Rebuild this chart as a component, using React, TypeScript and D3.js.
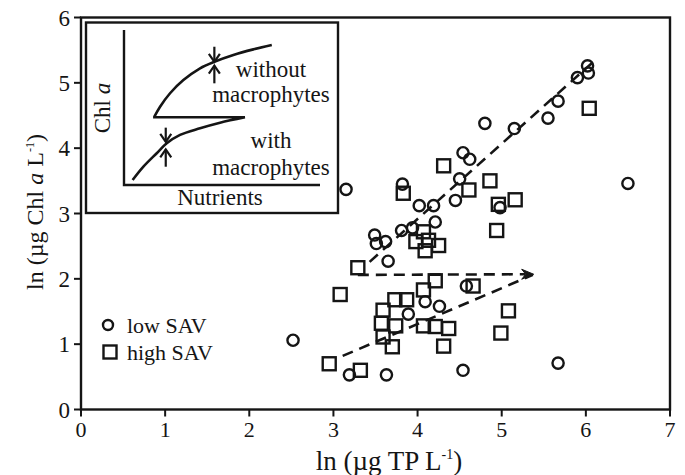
import React from "react";
import * as d3 from "d3";

// low SAV lakes (circles): ln TP, ln Chl a
const lowSavTP = [2.52, 3.15, 3.19, 3.49, 3.51, 3.62, 3.65, 3.63, 3.81, 3.94, 3.82, 3.89, 4.02, 4.19, 4.21, 4.09, 4.26,
  4.45, 4.5, 4.54, 4.62, 4.58, 4.54, 4.8, 4.98, 5.15, 5.55, 5.67, 5.67, 5.9, 6.02, 6.03, 6.5];
const lowSavChl = [1.06, 3.37, 0.53, 2.67, 2.54, 2.57, 2.27, 0.53, 2.74, 2.78, 3.45, 1.46, 3.12, 3.12, 2.87, 1.65, 1.58,
  3.2, 3.53, 3.93, 3.83, 1.89, 0.6, 4.38, 3.09, 4.3, 4.46, 4.72, 0.71, 5.08, 5.26, 5.15, 3.46];

// high SAV lakes (squares)
const highSavTP = [2.95, 3.08, 3.29, 3.32, 3.57, 3.59, 3.59, 3.7, 3.73, 3.87, 3.74, 3.83, 3.98, 4.07, 4.13, 4.25, 4.09,
  4.07, 4.21, 4.07, 4.21, 4.37, 4.31, 4.31, 4.61, 4.66, 4.86, 4.94, 4.96, 5.16, 5.08, 4.99, 6.04];
const highSavChl = [0.7, 1.76, 2.17, 0.6, 1.32, 1.52, 1.11, 0.96, 1.68, 1.68, 1.28, 3.31, 2.57, 2.72, 2.59, 2.51, 2.43,
  1.83, 1.97, 1.28, 1.27, 1.24, 0.97, 3.73, 3.36, 1.89, 3.5, 2.74, 3.14, 3.21, 1.51, 1.17, 4.61];

// dashed lines: [x0, x1], [y0, y1]
const turbidFitTP = [3.43, 6.07];
const turbidFitChl = [2.26, 5.3];
const clearFitTP = [3.11, 5.37];
const clearFitChl = [0.82, 2.06];
const shiftTP = [3.29, 5.38];
const shiftChl = [2.06, 2.07];

const xTicks = [0, 1, 2, 3, 4, 5, 6, 7];
const yTicks = [0, 1, 2, 3, 4, 5, 6];

// inset schematic (nutrients vs chl a, arbitrary units 0-10)
const upperCurveN = [1.55, 1.84, 2.35, 3.03, 3.88, 4.61, 5.58, 6.6, 7.54];
const upperCurveC = [4.41, 5.05, 5.92, 6.77, 7.53, 7.95, 8.39, 8.75, 9.03];
const lowerCurveN = [0.44, 0.99, 1.67, 2.18, 2.86, 3.88, 4.9, 6.17];
const lowerCurveC = [0.32, 1.18, 2.05, 2.69, 3.23, 3.66, 4.02, 4.37];
// arrows: position on nutrient axis, tail and tip on chl axis
const arrowN = [4.61, 4.61, 2.13, 2.13];
const arrowTail = [8.92, 6.56, 3.7, 1.18];
const arrowTip = [7.95, 7.7, 2.79, 2.3];

const FONT = "'Liberation Serif', 'Times New Roman', serif";
const INK = "#151515";

export default function App() {
  const x = d3.scaleLinear().domain([0, 7]).range([81, 670]);
  const y = d3.scaleLinear().domain([0, 6]).range([409.5, 17.5]);

  const ix = d3.scaleLinear().domain([0, 10]).range([124, 320]);
  const iy = d3.scaleLinear().domain([0, 10]).range([185, 30]);

  const line = d3.line<[number, number]>().x((d) => x(d[0])).y((d) => y(d[1]));
  const insetLine = d3
    .line<[number, number]>()
    .x((d) => ix(d[0]))
    .y((d) => iy(d[1]))
    .curve(d3.curveCatmullRom);

  const upper = upperCurveN.map((n, i) => [n, upperCurveC[i]] as [number, number]);
  const lower = lowerCurveN.map((n, i) => [n, lowerCurveC[i]] as [number, number]);
  // lower curve, then back along the horizontal jump, then the upper curve
  const zPath =
    insetLine(lower) +
    `L${ix(upperCurveN[0])},${iy(lowerCurveC[lowerCurveC.length - 1])}` +
    (insetLine(upper) || "").replace(/^M/, "L");

  const tipX = x(shiftTP[1]);
  const tipY = y(shiftChl[1]);

  return (
    <svg
      width={685}
      height={475}
      style={{ position: "absolute", left: 0, top: 0, background: "#fff" }}
      fontFamily={FONT}
    >
      {/* frame */}
      <rect
        x={x(0)}
        y={y(6)}
        width={x(7) - x(0)}
        height={y(0) - y(6)}
        fill="none"
        stroke={INK}
        strokeWidth={2.4}
      />

      {/* y axis */}
      {yTicks.map((t) => (
        <g key={"y" + t}>
          <line x1={x(0) - 7} x2={x(0)} y1={y(t)} y2={y(t)} stroke={INK} strokeWidth={2} />
          <text x={x(0) - 11} y={y(t)} dy="0.35em" textAnchor="end" fontSize={23} fill={INK}>
            {t}
          </text>
        </g>
      ))}
      {/* x axis */}
      {xTicks.map((t) => (
        <g key={"x" + t}>
          <line x1={x(t)} x2={x(t)} y1={y(0)} y2={y(0) + 7} stroke={INK} strokeWidth={2} />
          <text x={x(t)} y={y(0) + 27.5} textAnchor="middle" fontSize={22} fill={INK}>
            {t}
          </text>
        </g>
      ))}

      <text x={389} y={469.5} textAnchor="middle" fontSize={27} fill={INK}>
        ln (µg TP L
        <tspan dy={-11} fontSize={14}>-1</tspan>
        <tspan dy={11}>)</tspan>
      </text>
      <text
        transform={`translate(43,212) rotate(-90)`}
        textAnchor="middle"
        fontSize={24}
        fill={INK}
      >
        ln (µg Chl <tspan fontStyle="italic">a</tspan> L
        <tspan dy={-9} fontSize={12}>-1</tspan>
        <tspan dy={9}>)</tspan>
      </text>

      {/* dashed lines */}
      <g fill="none" stroke={INK} strokeWidth={2.6} strokeDasharray="11 7">
        <path d={line([[turbidFitTP[0], turbidFitChl[0]], [turbidFitTP[1], turbidFitChl[1]]]) || ""} />
        <path d={line([[clearFitTP[0], clearFitChl[0]], [clearFitTP[1], clearFitChl[1]]]) || ""} />
        <path d={line([[shiftTP[0], shiftChl[0]], [shiftTP[1] - 0.1, shiftChl[1]]]) || ""} />
      </g>
      <path
        d={`M${tipX},${tipY} L${tipX - 12},${tipY - 5} L${tipX - 8},${tipY} L${tipX - 12},${tipY + 5} Z`}
        fill={INK}
        stroke={INK}
        strokeWidth={1}
      />

      {/* points */}
      <g fill="none" stroke={INK} strokeWidth={2.4}>
        {highSavTP.map((v, i) => (
          <rect key={"h" + i} x={x(v) - 6.5} y={y(highSavChl[i]) - 6.5} width={13} height={13} />
        ))}
        {lowSavTP.map((v, i) => (
          <circle key={"l" + i} cx={x(v)} cy={y(lowSavChl[i])} r={5.6} />
        ))}
      </g>

      {/* legend */}
      <circle cx={108} cy={325} r={5} fill="none" stroke={INK} strokeWidth={2.4} />
      <rect x={103.5} y={345.5} width={13} height={13} fill="none" stroke={INK} strokeWidth={2.4} />
      <text x={127} y={333} fontSize={22} fill={INK}>low SAV</text>
      <text x={127} y={360} fontSize={22} fill={INK}>high SAV</text>

      {/* inset */}
      <rect x={86} y={22.5} width={252} height={190.5} fill="#fff" stroke={INK} strokeWidth={2.4} />
      <polyline
        points={`${ix(0)},${iy(10)} ${ix(0)},${iy(0)} ${ix(10)},${iy(0)}`}
        fill="none"
        stroke={INK}
        strokeWidth={2.4}
      />
      <path d={zPath} fill="none" stroke={INK} strokeWidth={2.6} strokeLinejoin="miter" />
      {arrowN.map((n, i) => {
        const ax = ix(n);
        const t0 = iy(arrowTail[i]);
        const t1 = iy(arrowTip[i]);
        const dir = t1 > t0 ? 1 : -1;
        return (
          <g key={"a" + i} fill="none" stroke={INK} strokeWidth={2.2}>
            <line x1={ax} x2={ax} y1={t0} y2={t1} />
            <polyline points={`${ax - 5.5},${t1 - dir * 8} ${ax},${t1} ${ax + 5.5},${t1 - dir * 8}`} />
          </g>
        );
      })}
      <text
        transform={`translate(110,108) rotate(-90)`}
        textAnchor="middle"
        fontSize={23}
        fill={INK}
      >
        Chl <tspan fontStyle="italic">a</tspan>
      </text>
      <text x={220} y={205} textAnchor="middle" fontSize={23} fill={INK}>Nutrients</text>
      <g fontSize={23} fill={INK} textAnchor="middle">
        <text x={271} y={77}>without</text>
        <text x={271} y={102}>macrophytes</text>
        <text x={271} y={148}>with</text>
        <text x={271} y={175}>macrophytes</text>
      </g>
    </svg>
  );
}
